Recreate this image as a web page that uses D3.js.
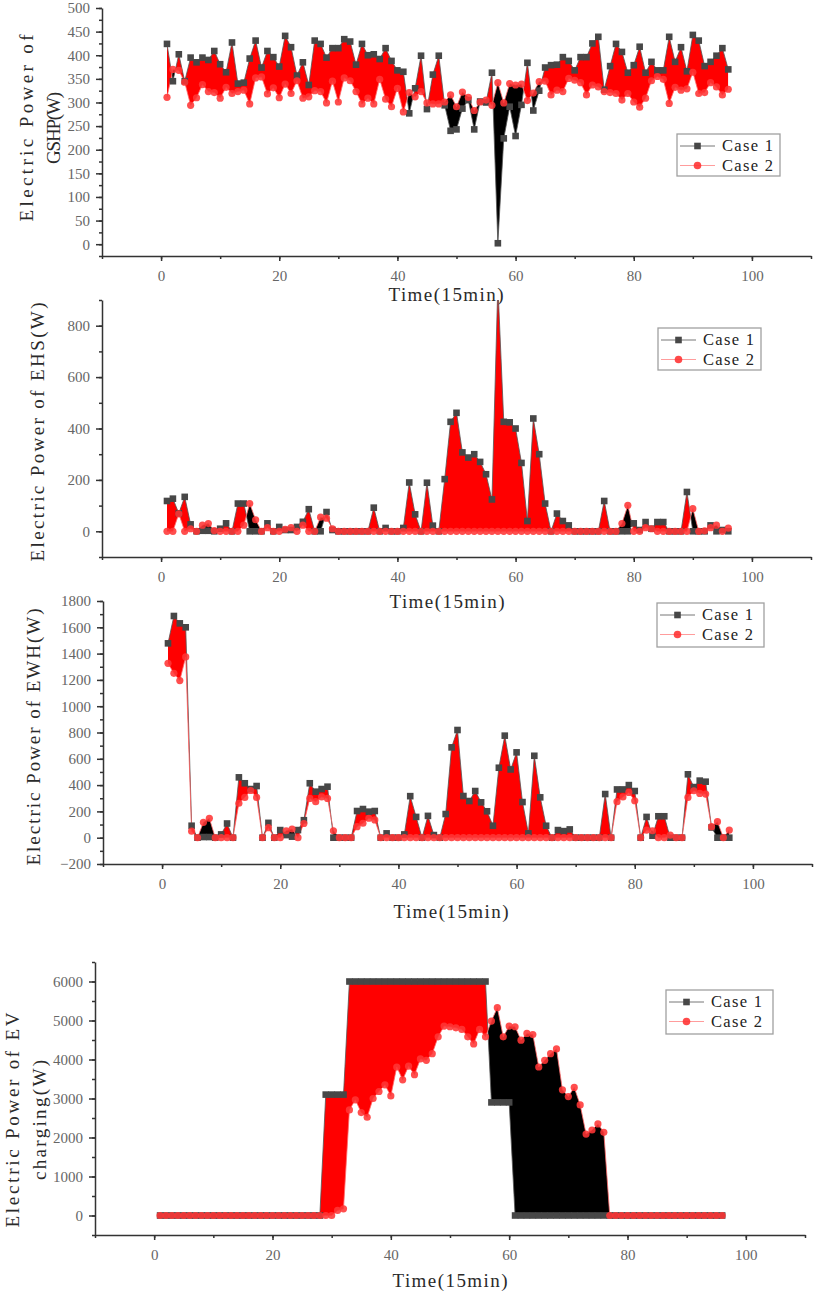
<!DOCTYPE html>
<html>
<head>
<meta charset="utf-8">
<script src="https://cdn.jsdelivr.net/npm/d3@7"></script>
<style>
  body { margin: 0; background: #fff; }
  text { font-family: "Liberation Serif", "DejaVu Serif", serif; }
</style>
</head>
<body>
<div id="chart-area"></div>
<script>
// Data
// ****
const slots = d3.range(1, 97)   // 15-minute time slots 1..96
const xTicks = [0, 20, 40, 60, 80, 100]
const seriesNames = ["Case 1", "Case 2"]

const gshpCase1 = [424,345,402,345,395,385,395,390,409,381, 364,427,340,342,393,431,374,409,396,376,
  441,417,357,385,337,431,424,395,415,415, 434,429,380,424,400,402,392,415,388,368,
  365,277,330,399,286,359,399,294,240,243, 287,305,243,302,300,363,2,224,291,229,
  295,384,283,325,374,379,380,396,388,368, 396,396,425,439,327,377,424,407,363,379,
  418,363,386,368,368,439,386,417,366,443, 431,377,386,399,415,370]
const gshpCase2 = [311,370,368,343,294,310,338,323,321,309, 332,319,323,326,297,352,354,318,331,310,
  339,319,346,309,312,325,323,299,345,301, 352,346,323,297,309,297,349,307,291,330,
  280,321,312,323,299,297,297,301,316,291, 322,311,283,301,305,294,342,299,340,337,
  339,304,320,344,345,316,326,323,351,347, 342,316,337,333,323,321,319,305,319,301,
  290,309,346,355,349,298,332,326,329,364, 319,321,342,333,316,328]
const gshpTicks = [0, 50, 100, 150, 200, 250, 300, 350, 400, 450, 500]

const ehsCase1 = [118,127,70,134,27,0,2,2,0,10, 31,0,108,108,0,0,0,31,0,17,
  5,5,17,37,86,0,0,75,5,0, 0,0,0,0,0,92,0,13,0,0,
  13,190,66,0,189,22,0,203,426,461, 307,287,300,270,222,124,960,426,424,400,
  266,40,439,300,108,0,69,40,23,0, 0,0,0,0,118,0,0,0,0,31,
  5,36,10,36,36,0,0,0,153,0, 0,0,23,0,5,0]
const ehsCase2 = [0,0,68,0,10,0,24,30,3,0, 0,0,0,24,108,45,0,14,0,0,
  8,14,0,24,0,0,55,51,10,0, 0,0,0,0,0,0,0,0,0,0,
  0,0,0,0,0,0,0,0,0,0, 0,0,0,0,0,0,0,0,0,0,
  0,0,0,0,0,0,0,0,0,0, 0,0,0,0,0,0,0,30,101,0,
  0,14,10,0,0,0,0,0,0,88, 0,2,14,24,0,12]
const ehsTicks = [0, 200, 400, 600, 800]

const ewhCase1 = [1478,1686,1630,1600,91,0,5,5,0,25, 108,0,459,414,370,393,0,113,0,58,
  20,8,58,133,414,350,370,388,0,0, 0,0,203,218,198,203,0,33,0,0,
  25,316,158,0,166,20,0,180,687,819, 317,279,355,269,201,91,532,776,519,649,
  271,33,623,307,91,0,58,50,63,0, 0,0,0,0,332,0,367,367,400,355,
  0,158,15,163,163,0,0,0,482,385, 434,426,78,0,0,0]
const ewhCase2 = [1326,1250,1195,1375,50,0,117,148,0,0, 0,0,262,306,359,306,0,76,0,0,
  53,66,0,108,299,274,310,299,53,0, 0,0,84,110,148,135,0,0,0,0,
  0,0,0,0,0,0,0,0,0,0, 0,0,0,0,0,0,0,0,0,0,
  0,0,0,0,0,0,0,0,0,0, 0,0,0,0,0,0,274,310,344,281,
  0,58,53,0,0,20,0,0,306,357, 337,332,84,122,0,58]
const ewhTicks = [-200, 0, 200, 400, 600, 800, 1000, 1200, 1400, 1600, 1800]

const evCase1 = [0,0,0,0,0,0,0,0,0,0, 0,0,0,0,0,0,0,0,0,0,
  0,0,0,0,0,0,0,0,3100,3100, 3100,3100,6000,6000,6000,6000,6000,6000,6000,6000,
  6000,6000,6000,6000,6000,6000,6000,6000,6000,6000, 6000,6000,6000,6000,6000,6000,2900,2900,2900,2900,
  0,0,0,0,0,0,0,0,0,0, 0,0,0,0,0,0,0,0,0,0,
  0,0,0,0,0,0,0,0,0,0, 0,0,0,0,0,0]
const evCase2 = [0,0,0,0,0,0,0,0,0,0, 0,0,0,0,0,0,0,0,0,0,
  0,0,0,0,0,0,0,0,0,0, 130,170,2708,2966,2639,2519,3000,3180,3350,3067,
  3808,3480,3830,3610,4014,3980,4150,4582,4856,4840, 4813,4770,4582,4400,4770,4582,4985,5330,4582,4856,
  4840,4496,4668,4640,3808,3980,4150,4272,3222,3050, 3283,2836,2089,2192,2347,2132,0,0,0,0,
  0,0,0,0,0,0,0,0,0,0, 0,0,0,0,0,0]
const evTicks = [0, 1000, 2000, 3000, 4000, 5000, 6000]

// Panel Layout
// ************
const panels = [
  { c1: gshpCase1, c2: gshpCase2, yDomain: [-25, 500], yTicks: gshpTicks, minor: 25,
    xRange: [102, 811], yRange: [256, 8],
    title: ["Electric Power of", "GSHP(W)"], titleLen: [187, 72], titleX: [26, 53], titleY: 128,
    timeX: 446, timeY: 294, legend: {x: 677, y: 134, w: 103, h: 42} },
  { c1: ehsCase1, c2: ehsCase2, yDomain: [-100, 900], yTicks: ehsTicks, minor: 100,
    xRange: [102, 811], yRange: [557, 300],
    title: ["Electric Power of EHS(W)"], titleLen: [259], titleX: [37], titleY: 432,
    timeX: 447, timeY: 601, legend: {x: 658, y: 328, w: 103, h: 42} },
  { c1: ewhCase1, c2: ewhCase2, yDomain: [-200, 1800], yTicks: ewhTicks, minor: 100,
    xRange: [103, 812], yRange: [864, 601],
    title: ["Electric Power of EWH(W)"], titleLen: [257], titleX: [33], titleY: 737,
    timeX: 451, timeY: 911, legend: {x: 657, y: 603, w: 107, h: 44} },
  { c1: evCase1, c2: evCase2, yDomain: [-500, 6500], yTicks: evTicks, minor: 500,
    xRange: [95, 805], yRange: [1235, 962],
    title: ["Electric Power of EV", "charging(W)"], titleLen: [215, 120], titleX: [12, 39], titleY: 1120,
    timeX: 450, timeY: 1280, legend: {x: 666, y: 990, w: 107, h: 44} }
]

const c1Color = "#474747", c2Color = "#ff3535"
const axisColor = "#333"
const font = '"Liberation Serif", "DejaVu Serif", serif'

// Create SVG Canvas
// *****************
const svg = d3.select("#chart-area")
  .append("svg")
    .attr("width", 816)
    .attr("height", 1296)

panels.forEach((p, i) => drawPanel(p, i))

// Draw One Panel
// **************
function drawPanel(p, i) {
  const x = d3.scaleLinear().domain([-10, 110]).range(p.xRange)
  const y = d3.scaleLinear().domain(p.yDomain).range(p.yRange)
  const rows = slots.map((t, k) => ({t: t, a: p.c1[k], b: p.c2[k]}))
  const top = p.yRange[1], bottom = p.yRange[0]

  // clip paths: plot frame, and the regions below / above the Case 1 line
  const defs = svg.append("defs")
  defs.append("clipPath").attr("id", "plot" + i)
    .append("rect")
      .attr("x", p.xRange[0]).attr("y", top)
      .attr("width", p.xRange[1] - p.xRange[0]).attr("height", bottom - top)
  defs.append("clipPath").attr("id", "below" + i)
    .append("path")
      .attr("d", d3.area().x(d => x(d.t)).y0(bottom).y1(d => y(d.a))(rows))
  defs.append("clipPath").attr("id", "above" + i)
    .append("path")
      .attr("d", d3.area().x(d => x(d.t)).y0(top).y1(d => y(d.a))(rows))

  const g = svg.append("g").attr("clip-path", "url(#plot" + i + ")")

  // Fill between the curves: red where Case 1 is higher, black where Case 2 is higher
  g.append("path")
    .attr("clip-path", "url(#below" + i + ")")
    .attr("d", d3.area().x(d => x(d.t)).y0(top).y1(d => y(d.b))(rows))
    .attr("fill", "#ff0000")
  g.append("path")
    .attr("clip-path", "url(#above" + i + ")")
    .attr("d", d3.area().x(d => x(d.t)).y0(bottom).y1(d => y(d.b))(rows))
    .attr("fill", "#000")

  // Lines
  g.append("path")
    .attr("d", d3.line().x(d => x(d.t)).y(d => y(d.a))(rows))
    .attr("fill", "none").attr("stroke", "#555").attr("stroke-width", 0.8)
  g.append("path")
    .attr("d", d3.line().x(d => x(d.t)).y(d => y(d.b))(rows))
    .attr("fill", "none").attr("stroke", "#ff6a6a").attr("stroke-width", 0.8)

  // Markers
  g.selectAll("rect.c1").data(rows).enter()
    .append("rect")
      .attr("class", "c1")
      .attr("x", d => x(d.t) - 3.3)
      .attr("y", d => y(d.a) - 3.3)
      .attr("width", 6.6).attr("height", 6.6)
      .attr("fill", c1Color)
  g.selectAll("circle.c2").data(rows).enter()
    .append("circle")
      .attr("class", "c2")
      .attr("cx", d => x(d.t))
      .attr("cy", d => y(d.b))
      .attr("r", 3.6)
      .attr("fill", c2Color)
      .attr("fill-opacity", 0.88)

  configAxis(p, x, y)
  addLabels(p)
  addLegend(p.legend)
}

// Config Axis
// ***********
function configAxis(p, x, y) {
  const minorY = d3.range(p.yDomain[0], p.yDomain[1] + 1, p.minor)
  const minorX = d3.range(-10, 111, 10)

  svg.append("g")
    .attr("class", "minor")
    .attr("transform", "translate(" + p.xRange[0] + ", 0)")
    .call(d3.axisLeft(y).tickValues(minorY).tickSize(3).tickFormat(""))
  svg.append("g")
    .attr("class", "minor")
    .attr("transform", "translate(0, " + p.yRange[0] + ")")
    .call(d3.axisBottom(x).tickValues(minorX).tickSize(3).tickFormat(""))

  svg.append("g")
    .attr("class", "major")
    .attr("transform", "translate(" + p.xRange[0] + ", 0)")
    .call(d3.axisLeft(y).tickValues(p.yTicks).tickSize(6).tickSizeOuter(0)
      .tickPadding(6).tickFormat(d3.format("d")))
  svg.append("g")
    .attr("class", "major")
    .attr("transform", "translate(0, " + p.yRange[0] + ")")
    .call(d3.axisBottom(x).tickValues(xTicks).tickSize(5).tickSizeOuter(0)
      .tickPadding(9).tickFormat(d3.format("d")))

  svg.selectAll(".minor path").remove()
  svg.selectAll(".major path, .major line, .minor line")
    .style("stroke", axisColor).style("stroke-width", 1.5)
  svg.selectAll(".major text")
    .style("fill", "#666").style("font-size", "15px").style("font-family", font)
}

// Labels
// ******
function addLabels(p) {
  p.title.forEach((line, k) => {
    svg.append("text")
      .attr("transform", "translate(" + p.titleX[k] + ", " + p.titleY + ") rotate(-90)")
      .attr("text-anchor", "middle")
      .attr("dy", "0.35em")
      .attr("font-size", "19px")
      .attr("textLength", p.titleLen[k])
      .attr("lengthAdjust", "spacing")
      .style("fill", "#2a2a2a")
      .text(line)
  })
  svg.append("text")
    .attr("x", p.timeX)
    .attr("y", p.timeY)
    .attr("dy", "0.35em")
    .attr("text-anchor", "middle")
    .attr("font-size", "19px")
    .attr("textLength", 115)
    .attr("lengthAdjust", "spacing")
    .style("fill", "#2a2a2a")
    .text("Time(15min)")
}

// Legend
// ******
function addLegend(L) {
  const lg = svg.append("g").attr("transform", "translate(" + L.x + ", " + L.y + ")")
  lg.append("rect")
    .attr("width", L.w).attr("height", L.h)
    .attr("fill", "#fff").attr("stroke", "#a0a0a0").attr("stroke-width", 1.3)

  seriesNames.forEach((name, k) => {
    const ry = 12 + k * 19.5
    lg.append("line")
      .attr("x1", 3).attr("x2", 38).attr("y1", ry).attr("y2", ry)
      .attr("stroke", k ? "#ff9c9c" : "#777").attr("stroke-width", 1)
    if (k) {
      lg.append("circle").attr("cx", 20.5).attr("cy", ry).attr("r", 3.8)
        .attr("fill", c2Color).attr("fill-opacity", 0.9)
    } else {
      lg.append("rect").attr("x", 17.2).attr("y", ry - 3.3).attr("width", 6.6).attr("height", 6.6)
        .attr("fill", c1Color)
    }
    lg.append("text")
      .attr("x", 45).attr("y", ry + 5)
      .attr("font-size", "16.5px")
      .attr("textLength", 51)
      .attr("lengthAdjust", "spacing")
      .style("fill", "#222")
      .text(name)
  })
}
</script>
</body>
</html>
